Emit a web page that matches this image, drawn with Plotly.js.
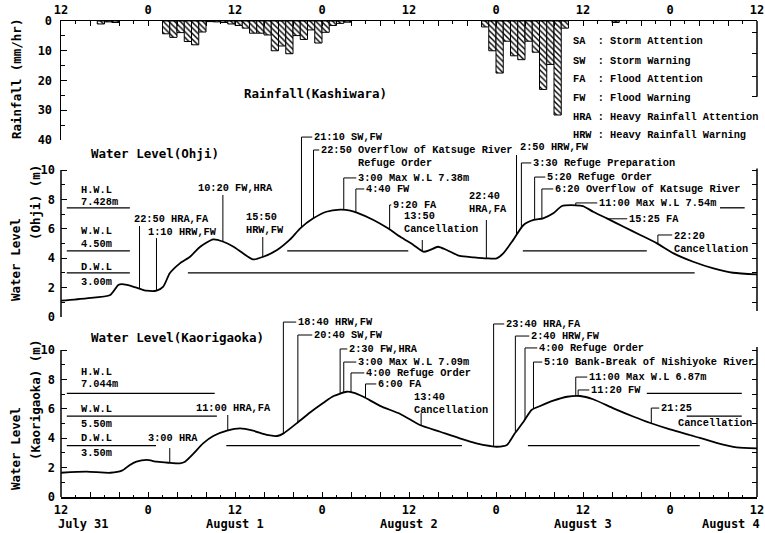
<!DOCTYPE html>
<html><head><meta charset="utf-8">
<script src="https://cdn.plot.ly/plotly-3.0.1.min.js"></script>
<style>html,body{margin:0;padding:0;background:#fff}#chart{width:765px;height:533px}</style>
</head><body><div id="chart"></div>
<script>
// ---------------- DATA ----------------
// time axis: hours after July 31 00:00
const tickHours = [12,24,36,48,60,72,84,96,108];
const tickLabels = ['12','0','12','0','12','0','12','0','12'];
const dateHours = [12,36,60,84,108];
const dateLabels = ['July 31','August 1','August 2','August 3','August 4'];

// Rainfall (Kashiwara), hourly, mm/hr (hour = start of hour)
const rainHours = [17,18,19,26,27,28,29,30,31,32,33,34,35,36,37,38,39,40,41,42,43,44,45,46,47,48,49,50,51,70,71,72,73,74,75,76,77,78,79,80,81,88];
const rainMm    = [1.0,0.3,0.5,4.3,5.5,3.9,6.9,8.0,3.7,0.2,0.3,0.5,1.0,1.5,2.4,4.1,4.1,4.7,10.0,8.4,11.0,4.9,6.2,3.0,7.4,3.8,1.5,0.8,0.4,2.0,10.0,17.5,6.8,11.7,13.0,6.8,10.5,23.0,14.6,31.6,2.4,0.5];

// Water level (Ohji), m
const ohjiHours = [12,15.5,18.8,19.9,20.4,21.1,22.7,23.8,25.2,26.1,27.0,28.4,29.8,31.2,33.0,34.4,35.8,37.1,38.5,39.9,41.8,43.6,45.0,46.8,48.6,50.5,51.9,52.8,55.1,57.1,58.8,60.6,62.0,62.9,64.0,65.2,67.0,68.9,70.7,72.1,73.0,74.2,75.8,77.2,78.5,79.9,81.1,83.0,84.0,85.4,87.3,89.6,91.9,94.2,96.5,99.2,102.0,104.7,108];
const ohjiLevel = [1.11,1.27,1.5,2.18,2.24,2.18,1.95,1.79,1.79,2.06,2.97,3.65,4.1,4.78,5.28,5.12,4.78,4.33,3.92,4.1,4.56,5.28,6.03,6.71,7.16,7.3,7.24,7.1,6.6,6.03,5.46,4.9,4.44,4.56,4.78,4.56,4.15,4.06,3.99,3.99,4.33,5.12,6.26,6.6,6.71,7.05,7.55,7.6,7.55,7.16,6.71,6.14,5.58,5.01,4.33,3.76,3.31,3.01,2.9];

// Water level (Kaorigaoka), m
const kaoriHours = [12,15.5,18.8,20.4,21.5,22.4,23.8,25.2,26.8,28.4,29.1,30.2,31.6,33.0,34.9,36.7,38.5,40.4,41.8,42.7,44.5,46.3,48.2,49.6,51.4,52.3,53.7,56.0,58.8,61.5,64.3,67.0,69.3,71.2,72.1,73.5,74.6,75.8,76.9,78.1,79.9,81.8,83.6,85.4,88.2,91.0,93.2,96.0,99.2,102.4,105.2,108];
const kaoriLevel = [1.65,1.72,1.65,1.79,2.18,2.4,2.52,2.4,2.33,2.29,2.4,2.92,3.65,4.15,4.51,4.67,4.51,4.22,4.15,4.33,5.01,5.73,6.41,6.87,7.16,7.1,6.82,6.2,5.65,4.9,4.44,3.99,3.65,3.47,3.42,3.54,4.33,5.12,5.92,6.19,6.55,6.82,6.87,6.65,6.03,5.46,5.05,4.6,4.15,3.69,3.38,3.31];

// Reference levels
const ohjiLevelNames = ['H.W.L','W.W.L','D.W.L'];
const ohjiLevelValues = [7.428,4.50,3.00];
const ohjiLevelText = ['7.428m','4.50m','3.00m'];
const kaoriLevelNames = ['H.W.L','W.W.L','D.W.L'];
const kaoriLevelValues = [7.044,5.50,3.50];
const kaoriLevelText = ['7.044m','5.50m','3.50m'];

// Events (Ohji)
const ohjiEventHours = [22.83,25.17,34.33,39.83,45.17,46.83,51,52.67,57.33,61.83,70.67,74.83,75.5,77.33,78.33,83,87.42,94.33];
const ohjiEventText = ['22:50 HRA,FA','1:10 HRW,FW','10:20 FW,HRA','15:50<br>HRW,FW','21:10 SW,FW','22:50 Overflow of Katsuge River','3:00 Max W.L 7.38m','4:40 FW','9:20 FA','13:50<br>Cancellation','22:40<br>HRA,FA','2:50 HRW,FW','3:30 Refuge Preparation','5:20 Refuge Order','6:20 Overflow of Katsuge River','11:00 Max W.L 7.54m','15:25 FA','22:20<br>Cancellation'];
// Events (Kaorigaoka)
const kaoriEventHours = [27,35,42.67,44.67,50.5,51,52,54,61.67,71.67,74.67,76,77.17,83,83.33,93.42];
const kaoriEventText = ['3:00 HRA','11:00 HRA,FA','18:40 HRW,FW','20:40 SW,FW','2:30 FW,HRA','3:00 Max W.L 7.09m','4:00 Refuge Order','6:00 FA','13:40<br>Cancellation','23:40 HRA,FA','2:40 HRW,FW','4:00 Refuge Order','5:10 Bank-Break of Nishiyoke River','11:00 Max W.L 6.87m','11:20 FW','21:25'];

const legendAbbr = ['SA','SW','FA','FW','HRA','HRW'];
const legendMeaning = ['Storm Attention','Storm Warning','Flood Attention','Flood Warning','Heavy Rainfall Attention','Heavy Rainfall Warning'];

// ---------------- LAYOUT HELPERS ----------------
const W=765, H=533, ML=61, MR=8, MT=21, MB=36;
const plotH = H-MT-MB, plotW = W-ML-MR;
const pyP = py => (H-MB-py)/plotH;
const pxP = px => (px-ML)/plotW;
const ohjiTop = (317-133)/14.7, kaoriTop = (497-316)/14.7;

// label placement: [textX(h), textY(level), leaderTop(level or null=curve), stub]
const ohjiPlace = [
 [21.93,6.67,6.19,false],[23.86,5.78,5.37,false],[30.76,8.78,8.30,false],[37.38,6.36,5.44,false],
 [46.76,12.24,12.24,true],[47.72,11.36,11.36,true],[52.83,9.46,9.46,true],[53.93,8.71,8.71,true],
 [57.66,7.62,7.62,true],[59.17,6.43,5.24,false],[68.14,7.76,6.6,false],[75.17,11.56,11.02,false],
 [76.97,10.48,10.48,true],[78.9,9.52,9.52,true],[80.0,8.71,8.71,true],[86.07,7.76,7.76,true],
 [90.2,6.67,null,true],[96.41,5.07,5.58,true]
];
const kaoriPlace = [
 [23.86,4.01,3.33,false],[30.48,6.05,5.58,false],[44.55,11.9,11.9,true],[46.76,11.02,11.02,true],
 [51.59,10.07,10.07,true],[52.83,9.18,9.18,true],[53.93,8.44,8.44,true],[55.59,7.69,7.69,true],
 [60.55,6.36,5.71,false],[73.24,11.77,11.77,true],[76.69,10.95,10.95,true],[77.79,10.14,10.14,true],
 [78.48,9.18,9.18,true],[84.69,8.16,8.16,true],[84.97,7.28,7.28,true],[94.62,6.05,6.05,true]
];
const ohjiSpans = [[[12.8,21.5],[102.9,106.3]],[[12.8,21.5],[43.2,59.9],[75.7,92.8]],[[12.8,21.5],[29.5,99.4]]];
const kaoriSpans = [[[12.8,33.2],[92.8,105.9]],[[12.8,33.5],[98.3,105.9]],[[12.8,25.1],[34.8,67.3],[76.4,100.1]]];
const ohjiNameY = [8.64,5.85,3.40], ohjiValY = [7.82,4.97,2.38];
const kaoriNameY = [8.50,5.99,4.01], kaoriValY = [7.69,4.97,2.99];

function interp(xs, ys, t){
  for(let i=0;i<xs.length-1;i++){
    if(t>=xs[i] && t<=xs[i+1]){ const f=(t-xs[i])/(xs[i+1]-xs[i]); return ys[i]+f*(ys[i+1]-ys[i]); }
  }
  return ys[ys.length-1];
}
function leaderTrace(hours, place, xs, ys, yax){
  const lx=[], ly=[];
  hours.forEach((t,i)=>{
    const p=place[i]; const c=interp(xs,ys,t); const top = p[2]==null ? c : p[2];
    lx.push(t,t); ly.push(c,top);
    if(p[3]){ lx.push(p[0]-0.1); ly.push(top); }
    lx.push(null); ly.push(null);
  });
  return {type:'scatter',mode:'lines',x:lx,y:ly,xaxis:'x',yaxis:yax,line:{color:'#000',width:1},hoverinfo:'skip',connectgaps:false};
}
function segTrace(values, spans, yax){
  const x=[], y=[];
  values.forEach((v,i)=>{ spans[i].forEach(s=>{ x.push(s[0],s[1],null); y.push(v,v,null); }); });
  return {type:'scatter',mode:'lines',x:x,y:y,xaxis:'x',yaxis:yax,line:{color:'#000',width:1.3},hoverinfo:'skip',connectgaps:false};
}

const annFont = {family:'Liberation Mono, Courier New, monospace', size:10.3, color:'#000', weight:'bold'};
const monoFont = {family:'DejaVu Sans Mono, monospace', size:12, color:'#000', weight:'bold'};
const titleFont = {family:'DejaVu Sans Mono, monospace', size:12.5, color:'#000', weight:'bold'};

const annotations = [];
function addEventAnns(hours, texts, place, yref){
  texts.forEach((tx,i)=>{
    annotations.push({x:place[i][0], y:place[i][1], xref:'x', yref:yref, text:tx, showarrow:false,
      xanchor:'left', yanchor:'middle', align:'left', font:annFont, borderpad:0});
  });
}
addEventAnns(ohjiEventHours, ohjiEventText, ohjiPlace, 'y2');
addEventAnns(kaoriEventHours, kaoriEventText, kaoriPlace, 'y3');
annotations.push({x:52.83,y:10.48,xref:'x',yref:'y2',text:'Refuge Order',showarrow:false,xanchor:'left',yanchor:'middle',font:annFont,borderpad:0});
annotations.push({x:96.97,y:5.03,xref:'x',yref:'y3',text:'Cancellation',showarrow:false,xanchor:'left',yanchor:'middle',font:annFont,borderpad:0});

function addLevelAnns(names, texts, nameY, valY, yref){
  names.forEach((n,i)=>{
    annotations.push({x:14.62,y:nameY[i],xref:'x',yref:yref,text:n,showarrow:false,xanchor:'left',yanchor:'middle',font:annFont,borderpad:0});
    annotations.push({x:14.62,y:valY[i],xref:'x',yref:yref,text:texts[i],showarrow:false,xanchor:'left',yanchor:'middle',font:annFont,borderpad:0});
  });
}
addLevelAnns(ohjiLevelNames, ohjiLevelText, ohjiNameY, ohjiValY, 'y2');
addLevelAnns(kaoriLevelNames, kaoriLevelText, kaoriNameY, kaoriValY, 'y3');

// legend of abbreviations
const legY = [41,61,79,98,117,135];
legendAbbr.forEach((a,i)=>{
  annotations.push({x:pxP(572),y:pyP(legY[i]),xref:'paper',yref:'paper',
    text:a.padEnd(4,'\u00A0')+':\u00A0'+legendMeaning[i],showarrow:false,xanchor:'left',yanchor:'middle',font:annFont,borderpad:0});
});

// panel titles
annotations.push({x:pxP(89),y:pyP(153),xref:'paper',yref:'paper',text:'Water Level(Ohji)',showarrow:false,xanchor:'left',yanchor:'middle',font:titleFont});
annotations.push({x:pxP(89),y:pyP(337),xref:'paper',yref:'paper',text:'Water Level(Kaorigaoka)',showarrow:false,xanchor:'left',yanchor:'middle',font:titleFont});
annotations.push({x:pxP(242),y:pyP(93),xref:'paper',yref:'paper',text:'Rainfall(Kashiwara)',showarrow:false,xanchor:'left',yanchor:'middle',font:titleFont});

// axis titles (rotated)
const axT = (text, px, py) => annotations.push({x:pxP(px),y:pyP(py),xref:'paper',yref:'paper',text:text,textangle:-90,showarrow:false,xanchor:'center',yanchor:'middle',font:titleFont});
axT('Rainfall (mm/hr)',16,79);
axT('Water Level',15,260);
axT('(Ohji) (m)',35,203);
axT('Water Level',15,449);
axT('(Kaorigaoka) (m)',35,400);

// date labels
const dAnch = ['left','center','center','center','right'];
const dShift = [-5,0,0,0,5];
dateHours.forEach((h,i)=>{
  annotations.push({x:h,y:pyP(524),xref:'x',yref:'paper',text:dateLabels[i],showarrow:false,xanchor:dAnch[i],xshift:dShift[i],yanchor:'middle',font:{family:'DejaVu Sans Mono, monospace',size:12,color:'#000',weight:'bold'}});
});

// ---------------- TRACES ----------------
const traces = [];
ohjiLevelValues.forEach((v,i)=>traces.push(segTrace([v],[ohjiSpans[i]],'y2')));
kaoriLevelValues.forEach((v,i)=>traces.push(segTrace([v],[kaoriSpans[i]],'y3')));
traces.push(leaderTrace(ohjiEventHours, ohjiPlace, ohjiHours, ohjiLevel, 'y2'));
traces.push(leaderTrace(kaoriEventHours, kaoriPlace, kaoriHours, kaoriLevel, 'y3'));
traces.push({type:'scatter',mode:'lines',x:ohjiHours,y:ohjiLevel,xaxis:'x',yaxis:'y2',line:{color:'#000',width:1.8,shape:'spline',smoothing:0.6},hoverinfo:'skip'});
traces.push({type:'scatter',mode:'lines',x:kaoriHours,y:kaoriLevel,xaxis:'x',yaxis:'y3',line:{color:'#000',width:1.8,shape:'spline',smoothing:0.6},hoverinfo:'skip'});
traces.push({type:'bar',x:rainHours.map(h=>h+0.5),y:rainMm,width:1,xaxis:'x2',yaxis:'y',
  marker:{color:'#fff',line:{color:'#000',width:1},pattern:{shape:'\\',fgcolor:'#000',bgcolor:'#fff',size:4,solidity:0.35}},hoverinfo:'skip'});
// invisible anchors for the right-side tick axes
['y4','y5','y6'].forEach((ya)=>traces.push({type:'scatter',mode:'markers',x:[60],y:[5],xaxis:'x',yaxis:ya,marker:{opacity:0},hoverinfo:'skip'}));

const x4 = []; const x4t = [];
for(let h=12; h<=108; h+=4){ x4.push(h); const k=tickHours.indexOf(h); x4t.push(k>=0?tickLabels[k]:''); }

const common = {showgrid:false, zeroline:false, color:'#000', tickcolor:'#000', linecolor:'#000'};
const layout = {
  width:W, height:H, margin:{l:ML,r:MR,t:MT,b:MB,pad:0},
  paper_bgcolor:'#fff', plot_bgcolor:'rgba(0,0,0,0)', showlegend:false,
  font:monoFont, bargap:0,
  xaxis:Object.assign({},common,{domain:[0,1],range:[12,108],anchor:'y3',showline:true,linewidth:1.5,
    ticks:'inside',tickmode:'array',tickvals:x4,ticktext:x4t,ticklen:5,tickwidth:1,ticklabelstandoff:1,
    minor:{tickmode:'linear',tick0:12,dtick:2,ticks:'inside',ticklen:2.5,tickwidth:1,tickcolor:'#000'},tickfont:monoFont}),
  xaxis2:Object.assign({},common,{overlaying:'x',anchor:'y',side:'top',range:[12,108],showline:true,linewidth:1.5,
    ticks:'inside',tickmode:'array',tickvals:x4,ticktext:x4t,ticklen:5,tickwidth:1,ticklabelstandoff:1,
    minor:{tickmode:'linear',tick0:12,dtick:2,ticks:'inside',ticklen:2.5,tickwidth:1,tickcolor:'#000'},tickfont:monoFont}),
  yaxis:Object.assign({},common,{domain:[pyP(140),1],range:[40,0],anchor:'x',showline:true,linewidth:1.5,
    ticks:'inside',tickmode:'array',tickvals:[0,10,20,30,40],ticklen:6,tickwidth:1,ticklabelstandoff:5,
    minor:{tickmode:'array',tickvals:[5,15,25,35],ticks:'inside',ticklen:4,tickcolor:'#000'},tickfont:monoFont}),
  yaxis2:Object.assign({},common,{domain:[pyP(317),pyP(133)],range:[0,ohjiTop],anchor:'x',showline:false,
    ticks:'inside',tickmode:'array',tickvals:[0,2,4,6,8,10],ticklen:6,tickwidth:1,ticklabelstandoff:5,
    minor:{tickmode:'array',tickvals:[1,3,5,7,9],ticks:'inside',ticklen:4,tickcolor:'#000'},tickfont:monoFont}),
  yaxis3:Object.assign({},common,{domain:[0,pyP(316)],range:[0,kaoriTop],anchor:'x',showline:false,
    ticks:'inside',tickmode:'array',tickvals:[0,2,4,6,8,10],ticklen:6,tickwidth:1,ticklabelstandoff:5,
    minor:{tickmode:'array',tickvals:[1,3,5,7,9],ticks:'inside',ticklen:4,tickcolor:'#000'},tickfont:monoFont}),
  yaxis4:Object.assign({},common,{overlaying:'y2',side:'right',anchor:'x',range:[0,ohjiTop],showline:false,
    ticks:'inside',tickmode:'array',tickvals:[1,2,3,4,5,6,7,8,9,10],ticklen:5,showticklabels:false}),
  yaxis5:Object.assign({},common,{overlaying:'y3',side:'right',anchor:'x',range:[0,kaoriTop],showline:false,
    ticks:'inside',tickmode:'array',tickvals:[1,2,3,4,5,6,7,8,9,10],ticklen:5,showticklabels:false}),
  yaxis6:Object.assign({},common,{overlaying:'y',side:'right',anchor:'x',range:[40,0],showline:false,
    ticks:'inside',tickmode:'array',tickvals:[4,10.8,18.8,25.5],ticklen:5,showticklabels:false}),
  shapes:[
    {type:'line',xref:'paper',yref:'y2',x0:0,x1:0,y0:0,y1:10,line:{color:'#000',width:1.5}},
    {type:'line',xref:'paper',yref:'y3',x0:0,x1:0,y0:0,y1:10,line:{color:'#000',width:1.5}},
    {type:'line',xref:'paper',yref:'y2',x0:1,x1:1,y0:0.4,y1:10.1,line:{color:'#000',width:1.5}},
    {type:'line',xref:'paper',yref:'y3',x0:1,x1:1,y0:0,y1:10.2,line:{color:'#000',width:1.5}},
    {type:'line',xref:'paper',yref:'y',x0:1,x1:1,y0:0,y1:25.5,line:{color:'#000',width:1.5}}
  ],
  annotations:annotations
};
Plotly.newPlot('chart', traces, layout, {displayModeBar:false, staticPlot:true});
</script></body></html>
